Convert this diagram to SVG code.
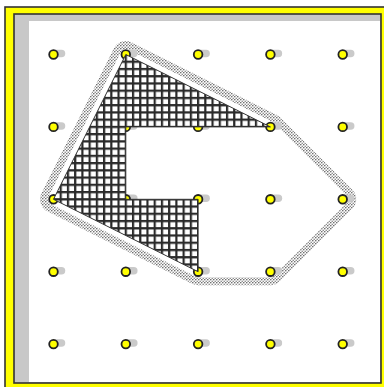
<svg xmlns="http://www.w3.org/2000/svg" xmlns:xlink="http://www.w3.org/1999/xlink" width="384" height="387" viewBox="0 0 384 387">
<style>
.frame{stroke:#333;stroke-width:1.6}
.sh{stroke:#cacaca;stroke-width:7.5;stroke-linecap:round;fill:none}
.pin{fill:#ffff00;stroke:#222;stroke-width:1.8}
</style>
<defs>
<pattern id="dots" patternUnits="userSpaceOnUse" width="3" height="3">
<circle cx="0.75" cy="0.75" r="0.8" fill="#666"/>
<circle cx="2.25" cy="2.25" r="0.8" fill="#888"/>
</pattern>
<pattern id="mesh" patternUnits="userSpaceOnUse" x="124.7" y="198.2" width="7.23" height="7.24">
<rect width="7.23" height="7.24" fill="#fff"/>
<path d="M1.1 0V7.24M0 1.1H7.23" stroke="#2a2a2a" stroke-width="2.2"/>
</pattern>
<g id="peg"><line class="sh" x1="2" y1="-1" x2="8" y2="-1"/><circle class="pin" r="4.3"/></g>
</defs>
<g id="frame">
<rect class="frame" x="5" y="7" width="400" height="400" fill="#ffff00"/>
<rect class="frame" x="14" y="14" width="367" height="369" fill="#c8c8c8"/>
<rect x="29" y="21" width="351" height="361" fill="#fff"/>
</g>
<g id="hull">
<polygon points="125.8,54.5 270.4,126.9 342.7,199.3 270.4,271.7 198.1,271.7 53.5,199.3" fill="none" stroke="url(#dots)" stroke-width="27" stroke-linejoin="round"/>
<polygon points="125.8,54.5 270.4,126.9 342.7,199.3 270.4,271.7 198.1,271.7 53.5,199.3" fill="#fff" stroke="#fff" stroke-width="11" stroke-linejoin="round"/>
</g>
<g id="pegs">
<use xlink:href="#peg" x="53.5" y="54.5"/><use xlink:href="#peg" x="125.8" y="54.5"/><use xlink:href="#peg" x="198.1" y="54.5"/><use xlink:href="#peg" x="270.4" y="54.5"/><use xlink:href="#peg" x="342.7" y="54.5"/>
<use xlink:href="#peg" x="53.5" y="126.9"/><use xlink:href="#peg" x="125.8" y="126.9"/><use xlink:href="#peg" x="198.1" y="126.9"/><use xlink:href="#peg" x="270.4" y="126.9"/><use xlink:href="#peg" x="342.7" y="126.9"/>
<use xlink:href="#peg" x="53.5" y="199.3"/><use xlink:href="#peg" x="125.8" y="199.3"/><use xlink:href="#peg" x="198.1" y="199.3"/><use xlink:href="#peg" x="270.4" y="199.3"/><use xlink:href="#peg" x="342.7" y="199.3"/>
<use xlink:href="#peg" x="53.5" y="271.7"/><use xlink:href="#peg" x="125.8" y="271.7"/><use xlink:href="#peg" x="198.1" y="271.7"/><use xlink:href="#peg" x="270.4" y="271.7"/><use xlink:href="#peg" x="342.7" y="271.7"/>
<use xlink:href="#peg" x="53.5" y="344.1"/><use xlink:href="#peg" x="125.8" y="344.1"/><use xlink:href="#peg" x="198.1" y="344.1"/><use xlink:href="#peg" x="270.4" y="344.1"/><use xlink:href="#peg" x="342.7" y="344.1"/>
</g>
<g id="shape">
<polygon points="125.8,54.5 270.4,126.9 125.8,126.9 125.8,199.3 198.1,199.3 198.1,271.7 53.5,199.3" fill="url(#mesh)" stroke="#333" stroke-width="1"/>
</g>
</svg>
